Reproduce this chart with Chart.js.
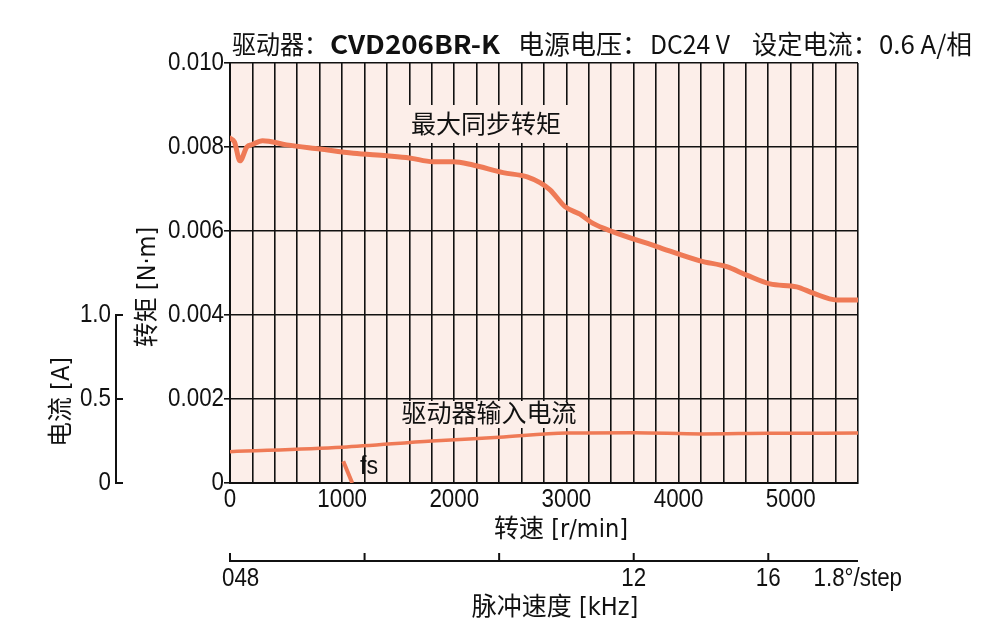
<!DOCTYPE html>
<html><head><meta charset="utf-8">
<script src="https://cdn.jsdelivr.net/npm/chart.js@4.4.1/dist/chart.umd.min.js"></script>
<style>html,body{margin:0;padding:0;background:#fff}#wrap{width:1000px;height:640px}</style>
</head><body><div id="wrap"><canvas id="c" width="1000" height="640"></canvas></div>
<script>
// ---- data ----
const speedTorque = [0, 40, 89, 150, 200, 290, 505, 803, 1100, 1397, 1600, 1811, 1990, 2167, 2435, 2650, 2764, 2854, 2987, 3121, 3237, 3416, 3805, 4191, 4429, 4607, 4815, 5053, 5201, 5410, 5600];
const torque = [0.00821, 0.00812, 0.00767, 0.00800, 0.00806, 0.00815, 0.00805, 0.00795, 0.00785, 0.00779, 0.00774, 0.00765, 0.00765, 0.00757, 0.00739, 0.00729, 0.00715, 0.00698, 0.00658, 0.00640, 0.00618, 0.00598, 0.00563, 0.00529, 0.00515, 0.00495, 0.00474, 0.00467, 0.00452, 0.00436, 0.00436];
const speedCurrent = [0, 1000, 1800, 2400, 3000, 3600, 4200, 4800, 5600];
const current = [0.186, 0.213, 0.250, 0.272, 0.297, 0.299, 0.292, 0.296, 0.297];
const speedFs = [1010, 1090];
const currentFs = [0.13, 0];
const torqueTicks = [0, 0.002, 0.004, 0.006, 0.008, 0.010];
const torqueTickLabels = ['0', '0.002', '0.004', '0.006', '0.008', '0.010'];
const currentTicks = [0, 0.5, 1.0];
const currentTickLabels = ['0', '0.5', '1.0'];
const speedLabelTicks = [0, 1000, 2000, 3000, 4000, 5000];
const pulseTicks = [0, 4, 8, 12, 16];
const pulseTickLabels = ['048', '', '', '12', '16'];
const pulseUnitLabel = '1.8°/step';

const SANS = "'Liberation Sans','Noto Sans CJK SC',sans-serif";
const NARROW = "'DejaVu Sans Condensed','Noto Sans CJK SC',sans-serif";
const CJK = "'Noto Sans CJK SC','Noto Sans',sans-serif";
const NUMFONT = '26px ' + SANS;
const KNUM = 0.86;
const LINE = '#EF7A56';
const BG = '#FCEEE9';
const INK = '#111';

function xy(xs, ys){ return xs.map((x,i)=>({x:x, y:ys[i]})); }

// draw text squeezed/stretched horizontally by factor k
function drawK(ctx, text, x, y, font, k, align){
  ctx.save();
  ctx.font = font; ctx.textBaseline = 'middle'; ctx.fillStyle = INK;
  const w = ctx.measureText(text).width * k;
  let lx = x;
  if (align === 'center') lx = x - w/2; else if (align === 'right') lx = x - w;
  ctx.translate(lx, y); ctx.scale(k, 1);
  ctx.textAlign = 'left';
  ctx.fillText(text, 0, 0);
  ctx.restore();
}
// draw text fitted to width
function drawW(ctx, text, x, y, font, width, align){
  ctx.save(); ctx.font = font;
  const k = width / ctx.measureText(text).width;
  ctx.restore();
  drawK(ctx, text, x, y, font, k, align);
}

const bgPlugin = {
  id:'bg',
  beforeDraw(chart){
    const {ctx, chartArea:a} = chart;
    ctx.save();
    ctx.fillStyle = '#fff'; ctx.fillRect(0,0,chart.width,chart.height);
    ctx.fillStyle = BG; ctx.fillRect(a.left, a.top, a.right-a.left, a.bottom-a.top);
    ctx.restore();
  }
};

function maskedText(ctx, text, cx, cy, font, pad){
  ctx.font = font;
  const w = ctx.measureText(text).width;
  ctx.fillStyle = BG;
  ctx.fillRect(cx - w/2 - pad.x, cy - pad.t, w + 2*pad.x, pad.t + pad.b);
  ctx.fillStyle = INK;
  ctx.textAlign = 'center'; ctx.textBaseline = 'middle';
  ctx.fillText(text, cx, cy);
}

const textPlugin = {
  id:'texts',
  afterDraw(chart){
    const {ctx} = chart;
    const x = chart.scales.x, y = chart.scales.y, yc = chart.scales.yCur, xp = chart.scales.xPulse;
    ctx.save();
    // title
    const ty = 44;
    drawW(ctx, '驱动器：', 232, ty, '26px ' + CJK, 96, 'left');
    drawW(ctx, 'CVD206BR-K', 330, ty, 'bold 26px ' + CJK, 170, 'left');
    drawW(ctx, '电源电压：', 518, ty, '26px ' + CJK, 130, 'left');
    drawW(ctx, 'DC24 V', 650, ty, '26px ' + CJK, 80, 'left');
    drawW(ctx, '设定电流：', 752, ty, '26px ' + CJK, 126, 'left');
    drawW(ctx, '0.6 A/相', 879, ty, '26px ' + CJK, 93, 'left');

    // in-plot labels with masking
    maskedText(ctx, '最大同步转矩', 486, 123, '25px ' + CJK, {x:12, t:18, b:20});
    maskedText(ctx, '驱动器输入电流', 489, 412, '25px ' + CJK, {x:10, t:11, b:16});
    drawW(ctx, 'fs', 360, 467, '25px ' + SANS, 18, 'left');

    // torque tick labels
    torqueTicks.forEach((v,i)=>{
      drawK(ctx, torqueTickLabels[i], 224, y.getPixelForValue(v), NUMFONT, KNUM, 'right');
    });
    // speed tick labels
    speedLabelTicks.forEach(v=>{
      drawK(ctx, String(v), x.getPixelForValue(v), 500, NUMFONT, KNUM, 'center');
    });

    // current axis (left)
    const axX = 116;
    ctx.strokeStyle = INK; ctx.lineWidth = 2;
    ctx.beginPath();
    ctx.moveTo(axX, yc.getPixelForValue(currentTicks[0]));
    ctx.lineTo(axX, yc.getPixelForValue(currentTicks[currentTicks.length-1]));
    ctx.stroke();
    currentTicks.forEach((v,i)=>{
      const py = yc.getPixelForValue(v);
      ctx.beginPath(); ctx.moveTo(axX-1, py); ctx.lineTo(axX+7, py); ctx.stroke();
      drawK(ctx, currentTickLabels[i], 111, py, NUMFONT, KNUM, 'right');
    });

    // pulse axis (bottom)
    const axY = 561;
    ctx.beginPath();
    ctx.moveTo(xp.getPixelForValue(xp.min), axY);
    ctx.lineTo(xp.getPixelForValue(xp.max), axY);
    ctx.stroke();
    pulseTicks.forEach((v,i)=>{
      const px = xp.getPixelForValue(v);
      ctx.beginPath(); ctx.moveTo(px, axY+1); ctx.lineTo(px, axY-8); ctx.stroke();
      const lab = pulseTickLabels[i];
      if (!lab) return;
      if (i === 0) drawK(ctx, lab, px-8, 579, NUMFONT, KNUM, 'left');
      else drawK(ctx, lab, px, 579, NUMFONT, KNUM, 'center');
    });
    drawK(ctx, pulseUnitLabel, 902, 579, NUMFONT, KNUM, 'right');

    // axis titles
    ctx.textAlign='center'; ctx.textBaseline='middle'; ctx.fillStyle = INK;
    ctx.font = '25px ' + NARROW;
    ctx.fillText('转速 [r/min]', 561, 530);
    ctx.fillText('脉冲速度 [kHz]', 555, 608);
    ctx.save(); ctx.translate(148, 287); ctx.rotate(-Math.PI/2);
    ctx.fillText('转矩 [N·m]', 0, 0); ctx.restore();
    ctx.save(); ctx.translate(62, 402); ctx.rotate(-Math.PI/2);
    ctx.fillText('电流 [A]', 0, 0); ctx.restore();
    ctx.restore();
  }
};

new Chart(document.getElementById('c'), {
  type:'line',
  data:{ datasets:[
    { data: xy(speedTorque, torque), yAxisID:'y', borderColor:LINE, borderWidth:5, pointRadius:0, cubicInterpolationMode:'monotone', borderCapStyle:'round', borderJoinStyle:'round' },
    { data: xy(speedCurrent, current), yAxisID:'yCur', borderColor:LINE, borderWidth:3.5, pointRadius:0, cubicInterpolationMode:'monotone' },
    { data: xy(speedFs, currentFs), yAxisID:'yCur', borderColor:LINE, borderWidth:4, pointRadius:0, tension:0 }
  ]},
  options:{
    responsive:false, animation:false, devicePixelRatio:1,
    layout:{ padding:{top:63, right:142, left:0, bottom:0}, autoPadding:false },
    plugins:{ legend:{display:false}, tooltip:{enabled:false}, title:{display:false} },
    scales:{
      x:{ type:'linear', min:0, max:5600, position:'bottom',
        afterFit(s){ s.height = 157; },
        afterBuildTicks(s){ const t=[]; for(let v=0; v<=5600; v+=200) t.push({value:v}); s.ticks=t; },
        grid:{ color:INK, lineWidth:1.6, drawTicks:false },
        border:{ display:true, color:INK, width:2 },
        ticks:{ display:false, autoSkip:false, maxRotation:0 } },
      y:{ type:'linear', min:0, max:0.010, position:'left',
        afterFit(s){ s.width = 230; },
        afterBuildTicks(s){ s.ticks = torqueTicks.map(v=>({value:v})); },
        grid:{ color:INK, lineWidth:1.6, drawTicks:true, tickLength:6 },
        border:{ display:true, color:INK, width:2 },
        ticks:{ display:false } },
      yCur:{ type:'linear', min:0, max:2.5, display:false },
      xPulse:{ type:'linear', min:0, max:5600/300, display:false, position:'bottom' }
    }
  },
  plugins:[bgPlugin, textPlugin]
});
</script></body></html>
